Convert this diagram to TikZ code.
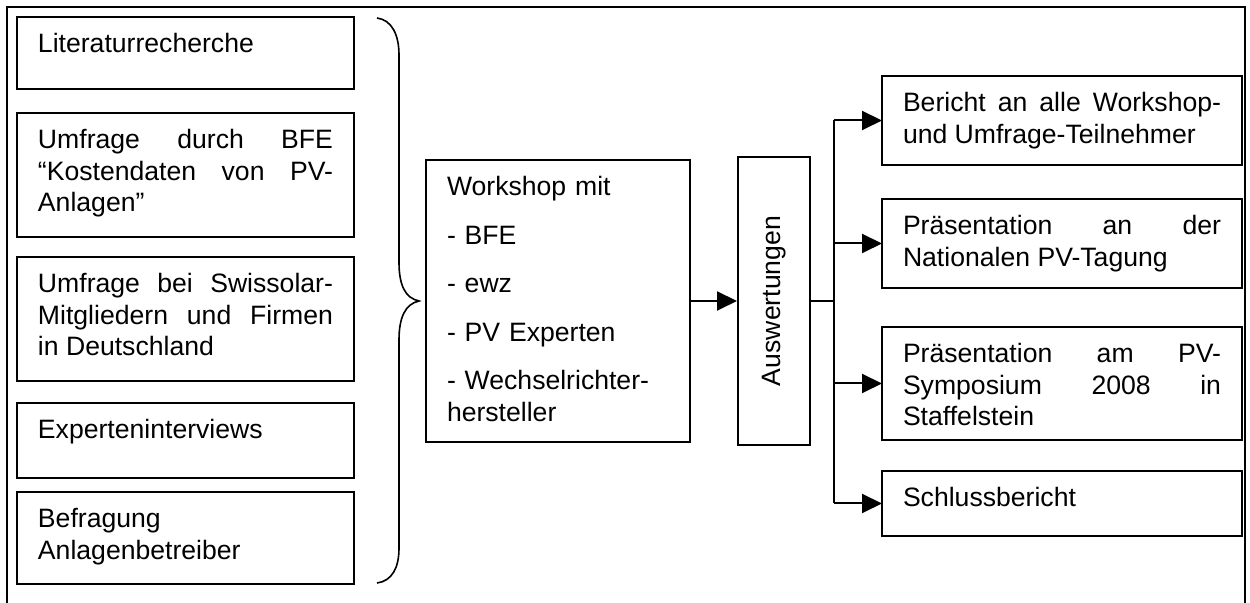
\documentclass[tikz,border=0pt]{standalone}
\usepackage{fontspec}
\setmainfont{Liberation Sans}
\usepackage{graphicx}
\usetikzlibrary{arrows.meta}

\tikzset{
    stage/.style={draw, line width=1pt, anchor=north west, inner xsep=10.5pt, inner ysep=0pt,
        outer sep=0pt, text height=17.75pt, align=justify, font=\fontsize{13.3}{15.8}\selectfont},
    flow/.style={line width=1pt, -{Triangle[length=10pt, width=9.5pt]}},
}

\begin{document}
\begin{tikzpicture}[x=0.5pt, y=-0.5pt]
    \useasboundingbox (0,0) rectangle (1250,603);
    % open frame
    \draw[line width=1pt] (7,603) -- (7,7) -- (1245,7) -- (1245,603);

    % sources
    \node[stage, text width=147.5pt, text depth=18.25pt] (lit) at (17,17) {Literaturrecherche};
    \node[stage, text width=147.5pt, text depth=44.25pt] (bfe) at (17,113)
        {Umfrage durch BFE\linebreak “Kostendaten von PV-\linebreak Anlagen”};
    \node[stage, text width=147.5pt, text depth=44.25pt] (swiss) at (17,257)
        {Umfrage bei Swissolar-\linebreak Mitgliedern und Firmen\linebreak in Deutschland};
    \node[stage, text width=147.5pt, text depth=19.75pt] (expert) at (17,403) {Experteninterviews};
    \node[stage, text width=147.5pt, text depth=28.25pt] (betr) at (17,492)
        {Befragung\newline Anlagenbetreiber};

    \draw[line width=0.8pt] (377,18) .. controls (392,20) and (399,35) .. (399,55) -- (399,262)
        .. controls (399,285) and (405,298) .. (419,301)
        .. controls (405,304) and (399,318) .. (399,340) -- (399,548)
        .. controls (399,568) and (392,581) .. (377,583);

    % workshop and evaluation
    \node[stage, align=left, text width=111pt, text depth=123.25pt] (work) at (426,160)
        {Workshop mit\\[8.5pt] - BFE\\[8.5pt] - ewz\\[8.5pt] - PV Experten\\[8.5pt] - Wechselrichter-\\hersteller};
    \node[draw, line width=1pt, minimum width=36pt, minimum height=144pt, inner sep=0pt,
        font=\fontsize{13.3}{15.8}\selectfont] (ausw) at (774,301) {\rotatebox{90}{Auswertungen}};
    \draw[flow] (work.east) -- (work.east -| ausw.west);

    % outputs
    \node[stage, text width=159pt, text depth=26.75pt] (r1) at (882,76)
        {Bericht an alle Workshop-\linebreak und Umfrage-Teilnehmer};
    \node[stage, text width=159pt, text depth=26.75pt] (r2) at (882,199)
        {Präsentation an der\linebreak Nationalen PV-Tagung};
    \node[stage, text width=159pt, text depth=38.75pt] (r3) at (882,327)
        {Präsentation am PV-\linebreak Symposium 2008 in\linebreak Staffelstein};
    \node[stage, text width=159pt, text depth=14.75pt] (r4) at (882,471) {Schlussbericht};

    \coordinate (split) at (834,301);
    \draw[line width=1pt] (ausw.east) -- (split);
    \draw[line width=1pt] (split |- r1.west) -- (split |- r4.west);
    \foreach \r in {r1,r2,r3,r4}
        \draw[flow] (split |- \r.west) -- (\r.west);
\end{tikzpicture}
\end{document}
